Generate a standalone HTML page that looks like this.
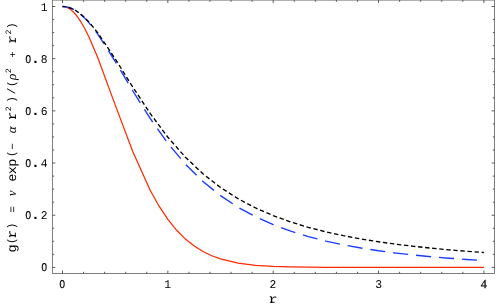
<!DOCTYPE html>
<html><head><meta charset="utf-8"><style>
html,body{margin:0;padding:0;background:#fff;}
svg{display:block;will-change:transform}
text{font-family:"Liberation Mono",monospace;fill:#000;text-rendering:geometricPrecision}
.t{text-anchor:middle}
</style></head><body>
<svg width="498" height="308" viewBox="0 0 498 308">
<rect width="498" height="308" fill="#fff"/>
<path d="M62.50 6.50 L63.60 6.56 L64.69 6.73 L65.79 7.01 L66.89 7.40 L69.08 8.53 L71.28 10.09 L73.47 12.09 L75.67 14.50 L80.06 20.51 L84.45 27.97 L88.84 36.72 L97.62 57.28 L115.17 104.85 L132.73 151.59 L150.29 190.51 L159.07 206.21 L167.85 219.41 L176.63 230.28 L185.41 239.07 L194.19 246.06 L202.97 251.53 L211.75 255.74 L220.52 258.94 L238.08 263.11 L255.64 265.32 L273.20 266.44 L290.76 266.98 L308.32 267.23 L325.88 267.33 L343.43 267.37 L360.99 267.39 L378.55 267.40 L396.11 267.40 L413.67 267.40 L431.22 267.40 L448.78 267.40 L466.34 267.40 L483.90 267.40" fill="none" stroke="#ff2a00" stroke-width="1.25"/>
<path d="M62.50 6.50 L64.69 6.62 L66.89 6.97 L69.08 7.57 L71.28 8.39 L73.47 9.44 L75.67 10.71 L80.06 13.90 L84.45 17.89 L88.84 22.61 L97.62 33.89 L115.17 61.27 L132.73 90.75 L150.29 118.68 L167.85 143.31 L185.41 164.17 L202.97 181.46 L220.52 195.66 L238.08 207.29 L255.64 216.83 L273.20 224.68 L290.76 231.17 L308.32 236.56 L325.88 241.07 L343.43 244.86 L360.99 248.05 L378.55 250.76 L396.11 253.07 L413.67 255.04 L431.22 256.73 L448.78 258.18 L466.34 259.43 L483.90 260.50" fill="none" stroke="#1a3cff" stroke-width="1.4" stroke-dasharray="15.1 7.93" stroke-dashoffset="3.1"/>
<path d="M62.50 6.50 L64.69 6.61 L66.89 6.95 L69.08 7.52 L71.28 8.30 L75.67 10.52 L80.06 13.57 L84.45 17.37 L88.84 21.88 L97.62 32.64 L115.17 58.78 L132.73 86.94 L150.29 113.64 L167.85 137.21 L185.41 157.20 L202.97 173.81 L220.52 187.48 L238.08 198.72 L255.64 207.98 L273.20 215.64 L290.76 222.01 L308.32 227.35 L325.88 231.86 L343.43 235.69 L360.99 238.96 L378.55 241.78 L396.11 244.21 L413.67 246.33 L431.22 248.19 L448.78 249.82 L466.34 251.26 L483.90 252.54" fill="none" stroke="#000" stroke-width="1.35" stroke-dasharray="4.4 2.69" stroke-dashoffset="0.99"/>
<rect x="52.4" y="0.1" width="442.1" height="273.4" fill="none" stroke="#707070" stroke-width="0.9"/>
<path d="M62.50 273.50 V270.60 M62.50 0.10 V3.00 M83.57 273.50 V271.80 M83.57 0.10 V1.80 M104.64 273.50 V271.80 M104.64 0.10 V1.80 M125.71 273.50 V271.80 M125.71 0.10 V1.80 M146.78 273.50 V271.80 M146.78 0.10 V1.80 M167.85 273.50 V270.60 M167.85 0.10 V3.00 M188.92 273.50 V271.80 M188.92 0.10 V1.80 M209.99 273.50 V271.80 M209.99 0.10 V1.80 M231.06 273.50 V271.80 M231.06 0.10 V1.80 M252.13 273.50 V271.80 M252.13 0.10 V1.80 M273.20 273.50 V270.60 M273.20 0.10 V3.00 M294.27 273.50 V271.80 M294.27 0.10 V1.80 M315.34 273.50 V271.80 M315.34 0.10 V1.80 M336.41 273.50 V271.80 M336.41 0.10 V1.80 M357.48 273.50 V271.80 M357.48 0.10 V1.80 M378.55 273.50 V270.60 M378.55 0.10 V3.00 M399.62 273.50 V271.80 M399.62 0.10 V1.80 M420.69 273.50 V271.80 M420.69 0.10 V1.80 M441.76 273.50 V271.80 M441.76 0.10 V1.80 M462.83 273.50 V271.80 M462.83 0.10 V1.80 M483.90 273.50 V270.60 M483.90 0.10 V3.00 M52.40 267.40 H55.30 M494.50 267.40 H491.60 M52.40 254.35 H54.10 M494.50 254.35 H492.80 M52.40 241.31 H54.10 M494.50 241.31 H492.80 M52.40 228.26 H54.10 M494.50 228.26 H492.80 M52.40 215.22 H55.30 M494.50 215.22 H491.60 M52.40 202.17 H54.10 M494.50 202.17 H492.80 M52.40 189.13 H54.10 M494.50 189.13 H492.80 M52.40 176.08 H54.10 M494.50 176.08 H492.80 M52.40 163.04 H55.30 M494.50 163.04 H491.60 M52.40 150.00 H54.10 M494.50 150.00 H492.80 M52.40 136.95 H54.10 M494.50 136.95 H492.80 M52.40 123.90 H54.10 M494.50 123.90 H492.80 M52.40 110.86 H55.30 M494.50 110.86 H491.60 M52.40 97.81 H54.10 M494.50 97.81 H492.80 M52.40 84.77 H54.10 M494.50 84.77 H492.80 M52.40 71.72 H54.10 M494.50 71.72 H492.80 M52.40 58.68 H55.30 M494.50 58.68 H491.60 M52.40 45.63 H54.10 M494.50 45.63 H492.80 M52.40 32.59 H54.10 M494.50 32.59 H492.80 M52.40 19.54 H54.10 M494.50 19.54 H492.80 M52.40 6.50 H55.30 M494.50 6.50 H491.60" fill="none" stroke="#484848" stroke-width="0.9"/>
<text class="t" transform="translate(62.30 288.00) scale(0.840 1)" font-size="11.80" stroke="#000" stroke-width="0.25">0</text>
<text class="t" transform="translate(167.65 288.00) scale(0.960 1)" font-size="11.80">1</text>
<text class="t" transform="translate(273.00 288.00) scale(0.960 1)" font-size="11.80">2</text>
<text class="t" transform="translate(378.75 288.00) scale(0.960 1)" font-size="11.80">3</text>
<text x="483.70" y="288.00" style="font-family:'Liberation Serif',serif;font-size:12.2px" stroke="#000" stroke-width="0.25" text-anchor="middle">4</text>
<text class="t" transform="translate(44.20 271.30) scale(0.840 1)" font-size="11.80" stroke="#000" stroke-width="0.25">0</text>
<text class="t" transform="translate(28.20 219.12) scale(0.840 1)" font-size="11.80" stroke="#000" stroke-width="0.25">0</text>
<text class="t" transform="translate(35.50 219.12) scale(1.000 1)" font-size="14.75" font-weight="bold">.</text>
<text class="t" transform="translate(44.20 219.12) scale(0.960 1)" font-size="11.80">2</text>
<text class="t" transform="translate(28.20 166.94) scale(0.840 1)" font-size="11.80" stroke="#000" stroke-width="0.25">0</text>
<text class="t" transform="translate(35.50 166.94) scale(1.000 1)" font-size="14.75" font-weight="bold">.</text>
<text class="t" transform="translate(44.20 166.94) scale(0.960 1)" font-size="11.80">4</text>
<text class="t" transform="translate(28.20 114.76) scale(0.840 1)" font-size="11.80" stroke="#000" stroke-width="0.25">0</text>
<text class="t" transform="translate(35.50 114.76) scale(1.000 1)" font-size="14.75" font-weight="bold">.</text>
<text class="t" transform="translate(44.20 114.76) scale(0.960 1)" font-size="11.80">6</text>
<text class="t" transform="translate(28.20 62.58) scale(0.840 1)" font-size="11.80" stroke="#000" stroke-width="0.25">0</text>
<text class="t" transform="translate(35.50 62.58) scale(1.000 1)" font-size="14.75" font-weight="bold">.</text>
<text class="t" transform="translate(44.20 62.58) scale(0.960 1)" font-size="11.80">8</text>
<text class="t" transform="translate(44.20 10.70) scale(0.960 1)" font-size="11.80">1</text>
<text class="t" transform="translate(273.30 302.70) scale(1.250 1)" font-size="12.00">r</text>
<path d="M269.80 302.25 h4.8 M269.80 296.70 h1.6" stroke="#000" stroke-width="0.9" fill="none"/>
<ellipse cx="62.30" cy="284.08" rx="1.04" ry="1.89" fill="#fff"/>
<ellipse cx="44.20" cy="267.38" rx="1.04" ry="1.89" fill="#fff"/>
<ellipse cx="28.20" cy="215.20" rx="1.04" ry="1.89" fill="#fff"/>
<ellipse cx="28.20" cy="163.02" rx="1.04" ry="1.89" fill="#fff"/>
<ellipse cx="28.20" cy="110.84" rx="1.04" ry="1.89" fill="#fff"/>
<ellipse cx="28.20" cy="58.66" rx="1.04" ry="1.89" fill="#fff"/>
<g transform="translate(15.80 0) rotate(-90)"><text class="t" transform="translate(-248.50 0.00) scale(1.080 1)" font-size="12.50">g</text><text class="t" transform="translate(-240.60 -0.90) scale(1.000 1)" font-size="11.00">(</text><text class="t" transform="translate(-234.00 0.00) scale(1.150 1)" font-size="12.50">r</text><path d="M-237.30 -0.45 h4.6 M-237.30 -6.0 h1.5" stroke="#000" stroke-width="0.9" fill="none"/><text class="t" transform="translate(-226.00 -0.90) scale(1.000 1)" font-size="11.00">)</text><text class="t" transform="translate(-209.40 0.00) scale(1.000 1)" font-size="11.20">=</text><text class="t" transform="translate(-193.30 0.10) scale(1.000 1)" font-size="13.20" style="font-family:'Liberation Serif',serif;font-style:italic">ν</text><text class="t" transform="translate(-177.70 0.00) scale(1.080 1)" font-size="12.50">e</text><text class="t" transform="translate(-170.20 0.00) scale(1.080 1)" font-size="12.50">x</text><text class="t" transform="translate(-162.80 0.00) scale(1.080 1)" font-size="12.50">p</text><text class="t" transform="translate(-153.60 -0.90) scale(1.000 1)" font-size="11.00">(</text><text class="t" transform="translate(-146.40 0.00) scale(1.000 1)" font-size="11.20">−</text><text class="t" transform="translate(-129.70 0.10) scale(1.000 1)" font-size="13.20" style="font-family:'Liberation Serif',serif;font-style:italic">α</text><text class="t" transform="translate(-115.70 0.00) scale(1.150 1)" font-size="12.50">r</text><path d="M-119.00 -0.45 h4.6 M-119.00 -6.0 h1.5" stroke="#000" stroke-width="0.9" fill="none"/><text class="t" transform="translate(-108.80 -4.80) scale(1.000 1)" font-size="8.20">2</text><text class="t" transform="translate(-99.40 -0.90) scale(1.000 1)" font-size="11.00">)</text><text class="t" transform="translate(-91.00 -0.90) scale(1.000 1)" font-size="11.00">/</text><text class="t" transform="translate(-83.60 -0.90) scale(1.000 1)" font-size="11.00">(</text><text class="t" transform="translate(-76.90 0.10) scale(1.000 1)" font-size="13.20" style="font-family:'Liberation Serif',serif;font-style:italic">ρ</text><text class="t" transform="translate(-70.80 -4.80) scale(1.000 1)" font-size="8.20">2</text><text class="t" transform="translate(-54.50 0.50) scale(1.000 1)" font-size="10.20">+</text><text class="t" transform="translate(-39.30 0.00) scale(1.150 1)" font-size="12.50">r</text><path d="M-42.60 -0.45 h4.6 M-42.60 -6.0 h1.5" stroke="#000" stroke-width="0.9" fill="none"/><text class="t" transform="translate(-32.10 -4.80) scale(1.000 1)" font-size="8.20">2</text><text class="t" transform="translate(-25.70 -0.90) scale(1.000 1)" font-size="11.00">)</text></g>
</svg>
</body></html>
